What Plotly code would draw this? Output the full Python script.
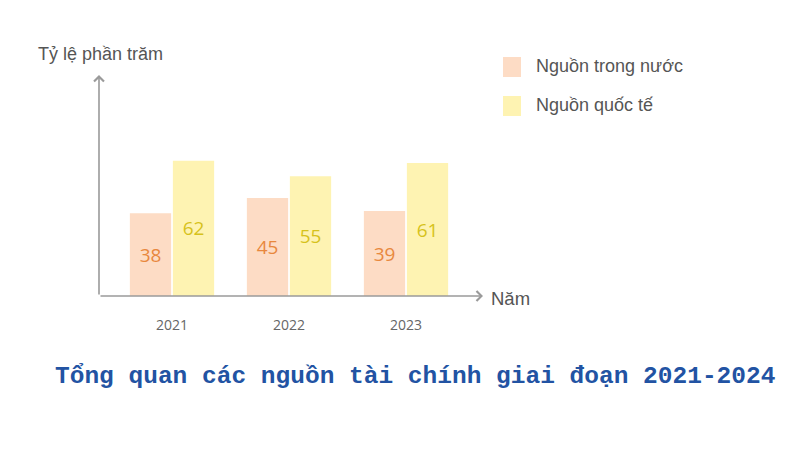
import plotly.graph_objects as go

years = ["2021", "2022", "2023"]
domestic = [38, 45, 39]
international = [62, 55, 61]
series_names = ["Nguồn trong nước", "Nguồn quốc tế"]
bar_colors = ["#FDDCC5", "#FEF3B2"]
text_colors = ["#E8883E", "#D6C21C"]

W, H = 800, 450
OFF = 8  # the page body adds an 8px margin, so shift everything back
# plot area in screenshot pixels (axis origin at 99,296)
L, R, T, B = 99 - OFF, 483 - OFF, 75 - OFF, 296 - OFF
pw, ph = R - L, B - T


def px_x(p):
    return (p - OFF - L) / pw


def px_y(p):
    return (B - (p - OFF)) / ph


fig = go.Figure()
for name, vals, col, tcol in zip(series_names, [domestic, international], bar_colors, text_colors):
    fig.add_trace(go.Bar(
        x=years, y=vals, name=name, marker_color=col, marker_line_width=0,
        text=vals, textposition="inside", insidetextanchor="middle",
        textfont=dict(family="Open Sans", size=19, color=tcol),
        textangle=0,
    ))

fig.update_layout(
    width=W, height=H,
    margin=dict(l=L, r=W - R, t=T, b=H - B),
    paper_bgcolor="white", plot_bgcolor="white",
    barmode="group", bargap=0.265, bargroupgap=0.04,
    showlegend=False,
    xaxis=dict(range=[-0.624, 2.658], showline=False, showgrid=False, zeroline=False,
               ticks="", ticklabelstandoff=19,
               tickfont=dict(family="Open Sans", size=14, color="#666666")),
    yaxis=dict(range=[0, 101.4], showline=False, showgrid=False, zeroline=False,
               showticklabels=False, ticks=""),
)

axis_col = "#9a9a9a"
# y axis with arrow
fig.add_annotation(xref="paper", yref="paper", x=0, y=1, ax=0, ay=ph, text="",
                   showarrow=True, arrowhead=4, arrowsize=1.2, arrowwidth=1.6,
                   arrowcolor=axis_col, standoff=0, startstandoff=0)
# x axis with arrow
fig.add_annotation(xref="paper", yref="paper", x=1, y=0, ax=-pw, ay=0, text="",
                   showarrow=True, arrowhead=4, arrowsize=1.2, arrowwidth=1.6,
                   arrowcolor=axis_col, standoff=0, startstandoff=0)

fig.add_annotation(xref="paper", yref="paper", x=px_x(100), y=px_y(54), text="Tỷ lệ phần trăm",
                   xanchor="center", yanchor="middle", showarrow=False,
                   font=dict(family="Liberation Sans", size=18, color="#555555"))
fig.add_annotation(xref="paper", yref="paper", x=px_x(489), y=px_y(298), text="Năm",
                   xanchor="left", yanchor="middle", showarrow=False,
                   font=dict(family="Liberation Sans", size=18.5, color="#555555"))

# legend
for i, (name, col) in enumerate(zip(series_names, bar_colors)):
    top = 57 + i * 39
    fig.add_shape(type="rect", xref="paper", yref="paper",
                  x0=px_x(503), x1=px_x(521), y0=px_y(top + 20), y1=px_y(top),
                  fillcolor=col, line_width=0)
    fig.add_annotation(xref="paper", yref="paper", x=px_x(534), y=px_y(top + 9),
                       text=name, xanchor="left", yanchor="middle", showarrow=False,
                       font=dict(family="Liberation Sans", size=18, color="#555555"))

fig.add_annotation(xref="paper", yref="paper", x=px_x(415), y=px_y(376),
                   text="<b>Tổng quan các nguồn tài chính giai đoạn 2021-2024</b>",
                   xanchor="center", yanchor="middle", showarrow=False,
                   font=dict(family="Liberation Mono", size=24.5, color="#2253A3"))

fig.write_html("out.html")
